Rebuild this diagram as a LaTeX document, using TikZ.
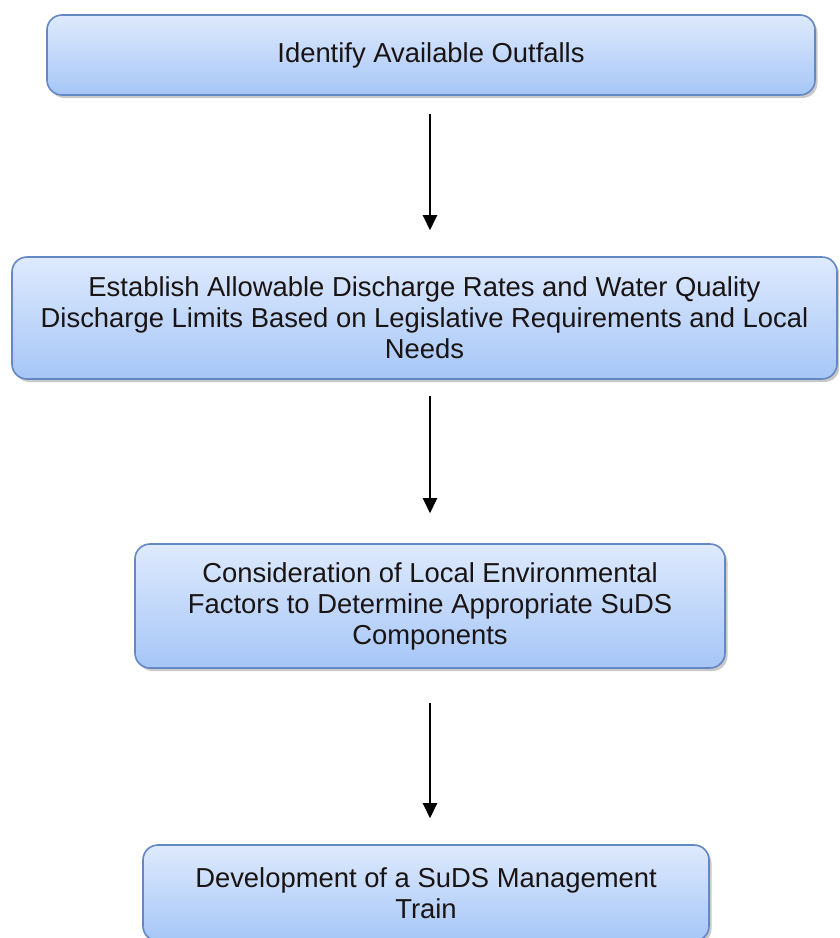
\documentclass[tikz,border=0pt]{standalone}
\usepackage{fontspec}
\setmainfont{Liberation Sans}
\usetikzlibrary{arrows.meta,shadows}
\definecolor{boxtop}{HTML}{DEEAFD}
\definecolor{boxbot}{HTML}{A6C6F7}
\definecolor{boxline}{HTML}{6488C4}
\definecolor{txt}{HTML}{1A1414}
\tikzset{
  flowbox/.style={draw=boxline, line width=1.6pt, rounded corners=15pt,
    top color=boxtop, bottom color=boxbot, align=center, text=txt,
    font=\fontsize{27.4}{31}\selectfont, inner sep=0pt,
    drop shadow={shadow xshift=2.5pt, shadow yshift=-3pt, opacity=0.35, fill=black!60}},
  flowarr/.style={line width=2.4pt, -{Triangle[width=14pt,length=15pt]}}
}
\begin{document}
\begin{tikzpicture}[x=1pt,y=-1pt]
\clip (0,0) rectangle (839,938);
\fill[white] (0,0) rectangle (839,938);
\node[flowbox, minimum width=768pt, minimum height=80pt] (b1) at (431,55) {Identify Available Outfalls};
\node[flowbox, minimum width=825pt, minimum height=122pt] (b2) at (424.5,318) {Establish Allowable Discharge Rates and Water Quality\\Discharge Limits Based on Legislative Requirements and Local\\Needs};
\node[flowbox, minimum width=590pt, minimum height=124pt] (b3) at (430,606) {Consideration of Local Environmental\\Factors to Determine Appropriate SuDS\\Components};
\node[flowbox, minimum width=566pt, minimum height=96pt] (b4) at (426,893) {Development of a SuDS Management\\Train};
\draw[flowarr, shorten <=18pt, shorten >=26pt] (b1.south -| b3.north) -- (b2.north -| b3.north);
\draw[flowarr, shorten <=16pt, shorten >=30pt] (b2.south -| b3.north) -- (b3.north);
\draw[flowarr, shorten <=34pt, shorten >=26pt] (b3.south) -- (b4.north -| b3.south);
\end{tikzpicture}
\end{document}
